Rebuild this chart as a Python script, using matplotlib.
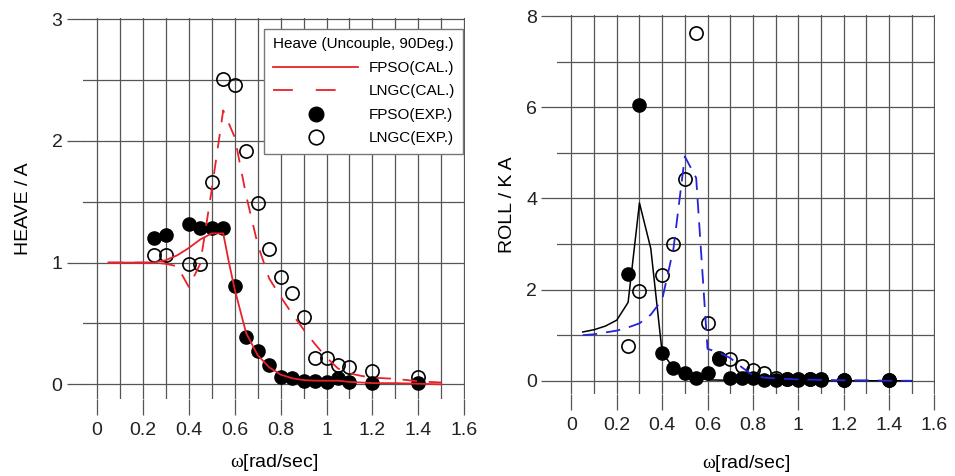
import matplotlib.pyplot as plt
from matplotlib.lines import Line2D
from matplotlib.ticker import MultipleLocator

plt.rcParams['font.family'] = ['Liberation Sans', 'DejaVu Sans']
plt.rcParams['mathtext.fontset'] = 'custom'
plt.rcParams['mathtext.rm'] = 'Liberation Serif'
plt.rcParams['mathtext.it'] = 'Liberation Serif'

# experimental frequencies (same for both ships)
w_exp = [0.25, 0.3, 0.4, 0.45, 0.5, 0.55, 0.6, 0.65, 0.7, 0.75, 0.8, 0.85,
         0.9, 0.95, 1.0, 1.05, 1.1, 1.2, 1.4]

# heave RAO
heave_fpso_exp = [1.20, 1.23, 1.32, 1.28, 1.28, 1.28, 0.81, 0.39, 0.27, 0.16,
                  0.06, 0.05, 0.03, 0.03, 0.02, 0.05, 0.02, 0.01, 0.01]
heave_lngc_exp = [1.06, 1.06, 0.99, 0.99, 1.66, 2.51, 2.46, 1.92, 1.49, 1.11,
                  0.88, 0.75, 0.55, 0.22, 0.22, 0.16, 0.14, 0.11, 0.06]

w_heave_fpso = [0.05, 0.1, 0.15, 0.2, 0.25, 0.3, 0.35, 0.4, 0.45, 0.5, 0.55,
                0.575, 0.6, 0.65, 0.7, 0.75, 0.8, 0.85, 0.9, 0.95, 1.0, 1.05,
                1.1, 1.2, 1.3, 1.4, 1.5]
heave_fpso_cal = [1.0, 1.0, 1.0, 1.0, 1.0, 1.02, 1.06, 1.12, 1.19, 1.24, 1.24,
                  1.0, 0.78, 0.42, 0.24, 0.14, 0.08, 0.05, 0.035, 0.03, 0.03,
                  0.03, 0.02, 0.01, 0.01, 0.005, 0.0]

w_heave_lngc = [0.05, 0.1, 0.15, 0.2, 0.25, 0.3, 0.35, 0.4, 0.45, 0.5, 0.55,
                0.6, 0.65, 0.7, 0.75, 0.8, 0.85, 0.9, 0.95, 1.0, 1.05, 1.1,
                1.15, 1.2, 1.3, 1.4, 1.5]
heave_lngc_cal = [1.0, 1.0, 1.0, 1.0, 1.0, 0.99, 0.97, 0.80, 0.99, 1.60, 2.25,
                  2.03, 1.55, 1.15, 0.87, 0.72, 0.58, 0.45, 0.33, 0.22, 0.13,
                  0.09, 0.07, 0.055, 0.045, 0.025, 0.015]

# roll RAO
roll_fpso_exp = [2.34, 6.04, 0.62, 0.29, 0.18, 0.05, 0.16, 0.47, 0.06, 0.05,
                 0.06, 0.01, 0.02, 0.03, 0.01, 0.03, 0.02, 0.01, 0.01]
roll_lngc_exp = [0.77, 1.97, 2.32, 3.0, 4.42, 7.63, 1.26, 0.50, 0.48, 0.33,
                 0.23, 0.18, 0.05, 0.04, 0.04, 0.03, 0.03, 0.02, 0.02]

w_roll_fpso = [0.05, 0.1, 0.15, 0.2, 0.25, 0.3, 0.35, 0.4, 0.45, 0.5, 0.55,
               0.6, 0.7, 0.8, 0.9, 1.0, 1.2, 1.4, 1.5]
roll_fpso_cal = [1.07, 1.12, 1.2, 1.33, 1.72, 3.9, 2.9, 0.62, 0.28, 0.17,
                 0.07, 0.02, 0.01, 0.01, 0.01, 0.0, 0.0, 0.0, 0.0]

w_roll_lngc = [0.05, 0.1, 0.15, 0.2, 0.25, 0.3, 0.35, 0.4, 0.45, 0.5, 0.55,
               0.6, 0.65, 0.7, 0.75, 0.8, 0.85, 0.9, 1.0, 1.1, 1.2, 1.3, 1.4,
               1.5]
roll_lngc_cal = [1.0, 1.02, 1.06, 1.1, 1.17, 1.26, 1.45, 1.78, 2.9, 4.92, 4.45,
                 0.7, 0.62, 0.5, 0.3, 0.12, 0.07, 0.05, 0.03, 0.02, 0.01, 0.01,
                 0.0, 0.0]

red = '#e8222a'
blue = '#2424d8'
grid_col = '#555555'

fig = plt.figure(figsize=(9.55, 4.76), dpi=100)
ax1 = fig.add_axes([0.0866, 0.1611, 0.4003, 0.8011])
ax2 = fig.add_axes([0.5836, 0.1723, 0.3955, 0.7962])


def style_axes(ax, ymax, ymin, ystep, ylabel, ylab_x, xlab_y):
    ax.set_xlim(-0.062, 1.603)
    ax.set_ylim(ymin, ymax * 1.003)
    ax.xaxis.set_major_locator(MultipleLocator(0.2))
    ax.xaxis.set_minor_locator(MultipleLocator(0.1))
    ax.yaxis.set_major_locator(MultipleLocator(ystep))
    ax.yaxis.set_minor_locator(MultipleLocator(ystep / 2))
    ax.set_xticks([0, 0.2, 0.4, 0.6, 0.8, 1.0, 1.2, 1.4, 1.6])
    ax.set_xticklabels(['0', '0.2', '0.4', '0.6', '0.8', '1', '1.2', '1.4', '1.6'])
    ax.grid(which='both', color=grid_col, lw=0.9)
    ax.set_axisbelow(True)
    for s in ax.spines.values():
        s.set_visible(False)
    ax.tick_params(which='major', length=11.5, width=0.9, color=grid_col,
                   labelsize=14, labelcolor='#222222')
    ax.tick_params(axis='x', which='major', pad=5)
    ax.tick_params(axis='y', which='major', pad=3)
    ax.tick_params(which='minor', length=0)
    ax.set_ylabel(ylabel, fontsize=14)
    ax.set_xlabel(r'$\mathrm{\omega}$[rad/sec]', fontsize=14)
    ax.yaxis.set_label_coords(ylab_x, 0.5)
    ax.xaxis.set_label_coords(0.5, xlab_y)


# HEAVE
ax1.plot(w_exp, heave_fpso_exp, 'o', color='k', ms=9.5, zorder=3)
ax1.plot(w_exp, heave_lngc_exp, 'o', mfc='none', mec='k', mew=1.2, ms=9.5, zorder=3)
ax1.plot(w_heave_fpso, heave_fpso_cal, color=red, lw=1.3, zorder=4)
ax1.plot(w_heave_lngc, heave_lngc_cal, color=red, lw=1.3, dashes=(8, 6.5), zorder=4)
style_axes(ax1, 3, -0.123, 1, 'HEAVE / A', -0.133, -0.138)

handles = [
    Line2D([], [], color=red, lw=1.3),
    Line2D([], [], color=red, lw=1.3, dashes=(11, 12.7)),
    Line2D([], [], ls='none', marker='o', color='k', ms=10.5),
    Line2D([], [], ls='none', marker='o', mfc='none', mec='k', mew=1.2, ms=10.5),
]
labels = ['FPSO(CAL.)', 'LNGC(CAL.)', 'FPSO(EXP.)', 'LNGC(EXP.)']
leg = ax1.legend(handles, labels, title='Heave (Uncouple, 90Deg.)',
                 loc='upper right', bbox_to_anchor=(0.995, 0.971),
                 borderaxespad=0, fontsize=11, title_fontsize=11,
                 handlelength=5.6, handletextpad=0.65, labelspacing=0.62,
                 borderpad=0.55, fancybox=False, framealpha=1, numpoints=1)
leg.get_frame().set_edgecolor('#777777')
leg.get_frame().set_linewidth(1.0)
leg.set_zorder(10)

# ROLL
ax2.plot(w_exp, roll_fpso_exp, 'o', color='k', ms=9.5, zorder=3)
ax2.plot(w_exp, roll_lngc_exp, 'o', mfc='none', mec='k', mew=1.2, ms=9.5, zorder=3)
ax2.plot(w_roll_fpso, roll_fpso_cal, color='k', lw=1.1, zorder=4)
ax2.plot(w_roll_lngc, roll_lngc_cal, color=blue, lw=1.3, dashes=(8, 5), zorder=4)
style_axes(ax2, 8, -0.29, 2, 'ROLL / K A', -0.109, -0.156)

fig.savefig('out.png', dpi=100, facecolor='white')
